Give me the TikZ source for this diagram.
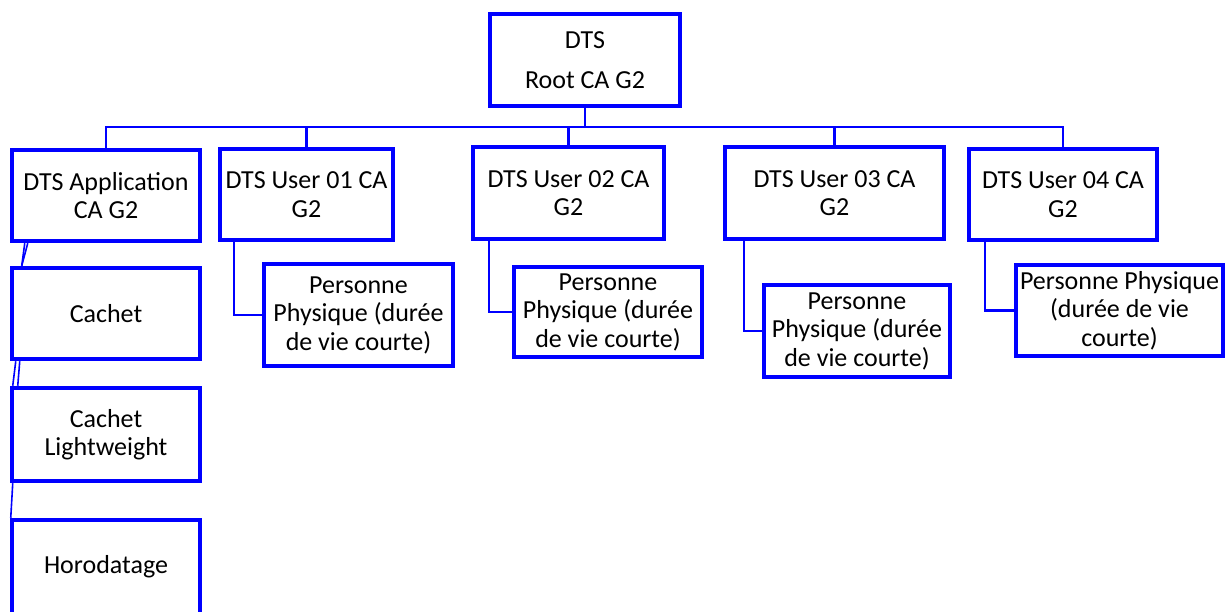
\documentclass[tikz,border=0pt]{standalone}
\usepackage{fontspec}
\setmainfont{Carlito}
\usepackage{tikz}
\usetikzlibrary{calc}

\tikzset{
  cabox/.style={draw=blue, line width=4.5pt, fill=white, align=center, inner sep=0pt,
    font=\fontsize{26}{28.5}\selectfont},
  link/.style={blue, line width=2.4pt},
  thinlink/.style={blue, line width=1.6pt}
}

\begin{document}
\begin{tikzpicture}[x=1pt,y=-1pt]
  \clip (0,0) rectangle (1226,612);

  % Root
  \node[cabox, minimum width=190pt, minimum height=92pt] (root) at (585,60) {DTS\\[12pt]Root CA G2};

  % Sub CAs
  \node[cabox, minimum width=188pt, minimum height=91pt] (app) at (106,195.5) {DTS Application\\CA G2};
  \node[cabox, minimum width=173pt, minimum height=91pt] (user1) at (306.5,194.5) {DTS User 01 CA\\G2};
  \node[cabox, minimum width=191pt, minimum height=92pt] (user2) at (568.5,193) {DTS User 02 CA\\G2};
  \node[cabox, minimum width=219pt, minimum height=92pt] (user3) at (834.5,193) {DTS User 03 CA\\G2};
  \node[cabox, minimum width=188pt, minimum height=91pt] (user4) at (1063,194.5) {DTS User 04 CA\\G2};

  % Personne Physique
  \node[cabox, minimum width=189pt, minimum height=102pt] (pp1) at (358.5,315) {Personne\\Physique (durée\\de vie courte)};
  \node[cabox, minimum width=188pt, minimum height=90pt] (pp2) at (608,312) {Personne\\Physique (durée\\de vie courte)};
  \node[cabox, minimum width=186pt, minimum height=92pt] (pp3) at (857,331) {Personne\\Physique (durée\\de vie courte)};
  \node[cabox, minimum width=207pt, minimum height=91pt] (pp4) at (1119.5,310.5) {Personne Physique\\(durée de vie\\courte)};

  % Application
  \node[cabox, minimum width=188pt, minimum height=91pt] (cachet) at (106,313.5) {Cachet};
  \node[cabox, minimum width=188pt, minimum height=93pt] (light) at (106,434.5) {Cachet\\Lightweight};
  \node[cabox, minimum width=188pt, minimum height=94pt] (horo) at (106,567) {Horodatage};

  % Bus
  \coordinate (bus) at (585,127);
  \draw[link] (root.south) -- (bus);
  \foreach \n in {app,user1,user2,user3,user4}
    \draw[link] (bus) -| (\n.north);

  % Sub CA to Personne Physique
  \draw[link] ([xshift=16pt]user1.south west) |- (pp1.west);
  \draw[link] ([xshift=18pt]user2.south west) |- (pp2.west);
  \draw[link] ([xshift=21pt]user3.south west) |- (pp3.west);
  \draw[link] ([xshift=18pt]user4.south west) |- (pp4.west);

  % Application chain
  \draw[thinlink] ([xshift=18pt]app.south west) -- ([xshift=12pt]cachet.north west);
  \draw[thinlink] ([xshift=15pt]app.south west) -- ([xshift=12pt]cachet.north west);
  \draw[thinlink] ([xshift=6pt]cachet.south west) -- ([xshift=3pt]light.north west);
  \draw[thinlink] ([xshift=10pt]cachet.south west) -- ([xshift=8pt]light.north west);
  \draw[thinlink] ([xshift=3pt]light.south west) -- ([xshift=1pt]horo.north west);
\end{tikzpicture}
\end{document}
